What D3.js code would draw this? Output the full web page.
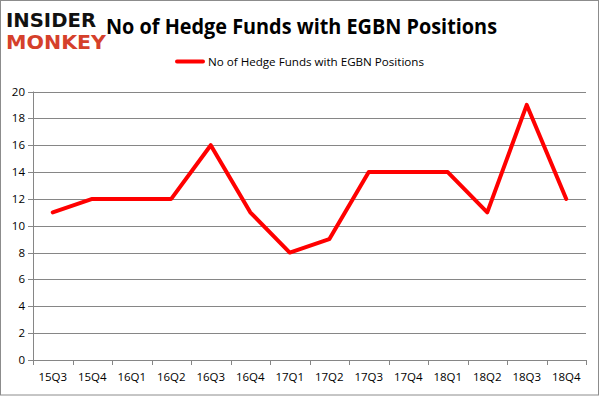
<!DOCTYPE html>
<html>
<head>
<meta charset="utf-8">
<script src="https://cdn.jsdelivr.net/npm/d3@7"></script>
<style>
  body { margin: 0; background: #fff; }
  svg { display: block; font-family: "Open Sans", "DejaVu Sans", sans-serif; }
</style>
</head>
<body>
<div id="chart"></div>
<script>
// Chart data
const quarters = ['15Q3', '15Q4', '16Q1', '16Q2', '16Q3', '16Q4', '17Q1', '17Q2',
                  '17Q3', '17Q4', '18Q1', '18Q2', '18Q3', '18Q4'];
const fundCounts = [11, 12, 12, 12, 16, 11, 8, 9, 14, 14, 14, 11, 19, 12];
const yTicks = [0, 2, 4, 6, 8, 10, 12, 14, 16, 18, 20];
const seriesName = 'No of Hedge Funds with EGBN Positions';

const W = 601, H = 396;
const margin = { left: 33, right: 15, top: 91.5, bottom: 36 };

const svg = d3.select('#chart').append('svg')
  .attr('width', W).attr('height', H);

// Outer frame
svg.append('rect')
  .attr('x', 0.5).attr('y', 0.5)
  .attr('width', W - 3).attr('height', H - 1.5)
  .attr('fill', '#fff').attr('stroke', '#8c8c8c').attr('stroke-width', 1);

const x = d3.scaleBand()
  .domain(quarters)
  .range([margin.left, W - margin.right]);

const y = d3.scaleLinear()
  .domain([0, 20])
  .range([H - margin.bottom, margin.top]);

const gridColor = '#868686';

// Horizontal gridlines
svg.append('g')
  .selectAll('line')
  .data(yTicks)
  .join('line')
  .attr('x1', margin.left - 5)
  .attr('x2', W - margin.right)
  .attr('y1', d => Math.round(y(d)) + 0.5)
  .attr('y2', d => Math.round(y(d)) + 0.5)
  .attr('stroke', gridColor).attr('stroke-width', 1);

// Y axis line
svg.append('line')
  .attr('x1', margin.left + 0.5).attr('x2', margin.left + 0.5)
  .attr('y1', y(20)).attr('y2', y(0))
  .attr('stroke', gridColor);

// Y tick labels
svg.append('g')
  .selectAll('text')
  .data(yTicks)
  .join('text')
  .attr('x', margin.left - 8)
  .attr('y', d => y(d))
  .attr('dy', '0.35em')
  .attr('text-anchor', 'end')
  .attr('font-size', 11.5)
  .attr('fill', '#000')
  .text(d => d);

// X tick marks at band boundaries
const xBounds = quarters.map(q => x(q)).concat([x(quarters[quarters.length - 1]) + x.bandwidth()]);
svg.append('g')
  .selectAll('line')
  .data(xBounds)
  .join('line')
  .attr('x1', d => Math.round(d) + 0.5)
  .attr('x2', d => Math.round(d) + 0.5)
  .attr('y1', y(0))
  .attr('y2', y(0) + 5)
  .attr('stroke', gridColor);

// X labels
svg.append('g')
  .selectAll('text')
  .data(quarters)
  .join('text')
  .attr('x', d => x(d) + x.bandwidth() / 2)
  .attr('y', y(0) + 21)
  .attr('text-anchor', 'middle')
  .attr('font-size', 11.5)
  .attr('fill', '#000')
  .text(d => d);

// Series line
const line = d3.line()
  .x((d, i) => x(quarters[i]) + x.bandwidth() / 2)
  .y(d => y(d));

svg.append('path')
  .datum(fundCounts)
  .attr('d', line)
  .attr('fill', 'none')
  .attr('stroke', '#ff0000')
  .attr('stroke-width', 4)
  .attr('stroke-linejoin', 'round')
  .attr('stroke-linecap', 'round');

// Title
svg.append('text')
  .attr('x', 106).attr('y', 34)
  .attr('font-size', 22)
  .attr('font-weight', 'bold')
  .attr('textLength', 391)
  .attr('lengthAdjust', 'spacingAndGlyphs')
  .attr('fill', '#000')
  .text(seriesName);

// Legend
svg.append('line')
  .attr('x1', 177).attr('x2', 203)
  .attr('y1', 61.5).attr('y2', 61.5)
  .attr('stroke', '#ff0000').attr('stroke-width', 4)
  .attr('stroke-linecap', 'round');
svg.append('text')
  .attr('x', 208).attr('y', 66)
  .attr('font-size', 11.5)
  .attr('textLength', 216)
  .attr('lengthAdjust', 'spacingAndGlyphs')
  .attr('fill', '#000')
  .text(seriesName);

// Logo
const logo = svg.append('g').attr('font-family', '"DejaVu Sans", sans-serif').attr('font-weight', 'bold');
logo.append('text')
  .attr('x', 6).attr('y', 27)
  .attr('font-size', 19)
  .attr('textLength', 90)
  .attr('lengthAdjust', 'spacingAndGlyphs')
  .attr('fill', '#111')
  .text('INSIDER');
logo.append('text')
  .attr('x', 6).attr('y', 49)
  .attr('font-size', 20)
  .attr('textLength', 100)
  .attr('lengthAdjust', 'spacingAndGlyphs')
  .attr('fill', '#d5402b')
  .text('MONKEY');
</script>
</body>
</html>
